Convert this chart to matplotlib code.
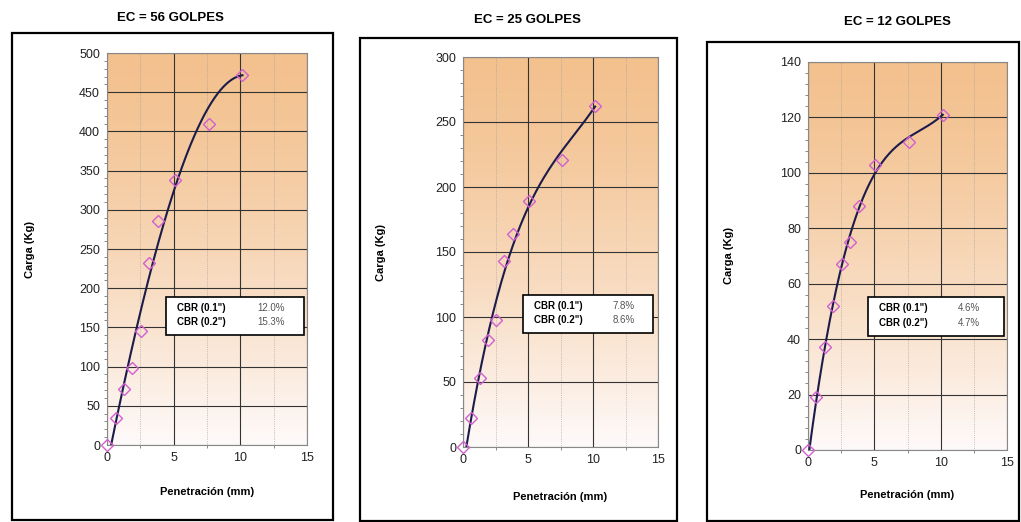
import numpy as np
import matplotlib.pyplot as plt
from matplotlib.patches import Rectangle

plt.rcParams['font.family'] = ['Liberation Sans', 'DejaVu Sans']

W, H = 1021, 522

penetracion = [0, 0.64, 1.27, 1.91, 2.54, 3.18, 3.81, 5.08, 7.62, 10.16]

titulos = ["EC = 56 GOLPES", "EC = 25 GOLPES", "EC = 12 GOLPES"]
carga_56 = [0, 34, 72, 98, 145, 232, 286, 338, 410, 472]
carga_25 = [0, 22, 53, 82, 98, 143, 164, 189, 221, 262]
carga_12 = [0, 19, 37, 52, 67, 75, 88, 103, 111, 121]
inicio_curva = [0.3, 0.25, 0.1]   # correccion del origen de la curva
cbr_01 = ["12.0%", "7.8%", "4.6%"]
cbr_02 = ["15.3%", "8.6%", "4.7%"]
ymax = [500, 300, 140]
ypaso = [50, 50, 20]

# pixel layout (left, top, right, bottom)
ejes_px = [(107, 53, 307, 445), (463, 57, 658, 447), (808, 62, 1007, 450)]
marcos_px = [(12, 33, 333, 520), (360, 38, 677, 521), (707, 42, 1019, 521)]
titulo_px = [(170, 18), (527, 20), (897, 22)]
ylabel_x = [30, 381, 729]
xlabel_y = [492, 497, 495]
caja = [(0.295, 0.28, 0.69, 0.098), (0.31, 0.292, 0.665, 0.098), (0.30, 0.294, 0.685, 0.10)]

fig = plt.figure(figsize=(W / 100, H / 100), dpi=100)
fig.patch.set_facecolor('white')

# degradado de fondo
grad = np.linspace(0, 1, 256).reshape(-1, 1) ** 1.4
top = np.array([243, 193, 142]) / 255
bot = np.array([254, 250, 250]) / 255
img = (top * (1 - grad) + bot * grad).reshape(256, 1, 3)

series = [carga_56, carga_25, carga_12]
for i in range(3):
    l, t, r, b = ejes_px[i]
    ax = fig.add_axes([l / W, 1 - b / H, (r - l) / W, (b - t) / H])
    ax.imshow(img, extent=[0, 15, 0, ymax[i]], aspect='auto', zorder=0)
    ax.set_xlim(0, 15)
    ax.set_ylim(0, ymax[i])
    ax.set_xticks([0, 5, 10, 15])
    ax.set_xticks(np.arange(0, 15.1, 2.5), minor=True)
    ax.set_yticks(np.arange(0, ymax[i] + 1, ypaso[i]))
    ax.set_yticks(np.arange(0, ymax[i] + 1, ypaso[i] / 5), minor=True)
    ax.grid(True, which='major', color='#333333', lw=0.8, zorder=1)
    ax.grid(True, which='minor', axis='x', color='#999999', lw=0.5, ls=':', zorder=1)
    ax.tick_params(labelsize=9, length=0, pad=5, labelcolor='#222222')
    ax.tick_params(which='minor', length=2, color='#777777')
    for s in ax.spines.values():
        s.set_color('#888888')
        s.set_linewidth(0.8)

    # curva de tendencia (ajuste polinomico de los puntos)
    x = np.array(penetracion)
    y = np.array(series[i])
    xs = np.r_[inicio_curva[i], x[1:]]
    ys = np.r_[0, y[1:]]
    pesos = np.ones(len(xs))
    pesos[0] = pesos[-1] = 4
    coef = np.polyfit(xs, ys, 3, w=pesos)
    xc = np.linspace(inicio_curva[i], x[-1], 200)
    ax.plot(xc, np.polyval(coef, xc), color='#1c1c4a', lw=1.5, zorder=3)
    ax.plot(x, y, 'D', mfc='none', mec='#d060d0', ms=6, mew=1.0, zorder=4, clip_on=False)

    bx, by, bw, bh = caja[i]
    ax.add_patch(Rectangle((bx, by), bw, bh, transform=ax.transAxes, facecolor='white',
                           edgecolor='black', lw=1.2, zorder=5))
    for k, (lab, val) in enumerate([('CBR (0.1")', cbr_01[i]), ('CBR (0.2")', cbr_02[i])]):
        yy = by + bh * (0.72 - 0.38 * k)
        ax.text(bx + 0.055, yy, lab, transform=ax.transAxes, fontsize=7, fontweight='bold',
                va='center', zorder=6)
        ax.text(bx + 0.455, yy, val, transform=ax.transAxes, fontsize=7, color='#555555',
                va='center', zorder=6)

    fig.text(titulo_px[i][0] / W, 1 - titulo_px[i][1] / H, titulos[i], ha='center',
             va='center', fontsize=9.5, fontweight='bold')
    fig.text(ylabel_x[i] / W, 1 - (t + b) / 2 / H, 'Carga (Kg)', rotation=90, ha='center',
             va='center', fontsize=8, fontweight='bold')
    fig.text((l + r) / 2 / W, 1 - xlabel_y[i] / H, 'Penetración (mm)', ha='center',
             va='center', fontsize=8, fontweight='bold')

    ml, mt, mr, mb = marcos_px[i]
    fig.add_artist(Rectangle((ml / W, 1 - mb / H), (mr - ml) / W, (mb - mt) / H,
                             transform=fig.transFigure, fill=False, edgecolor='black', lw=1.6))

fig.savefig('out.png', dpi=100)
